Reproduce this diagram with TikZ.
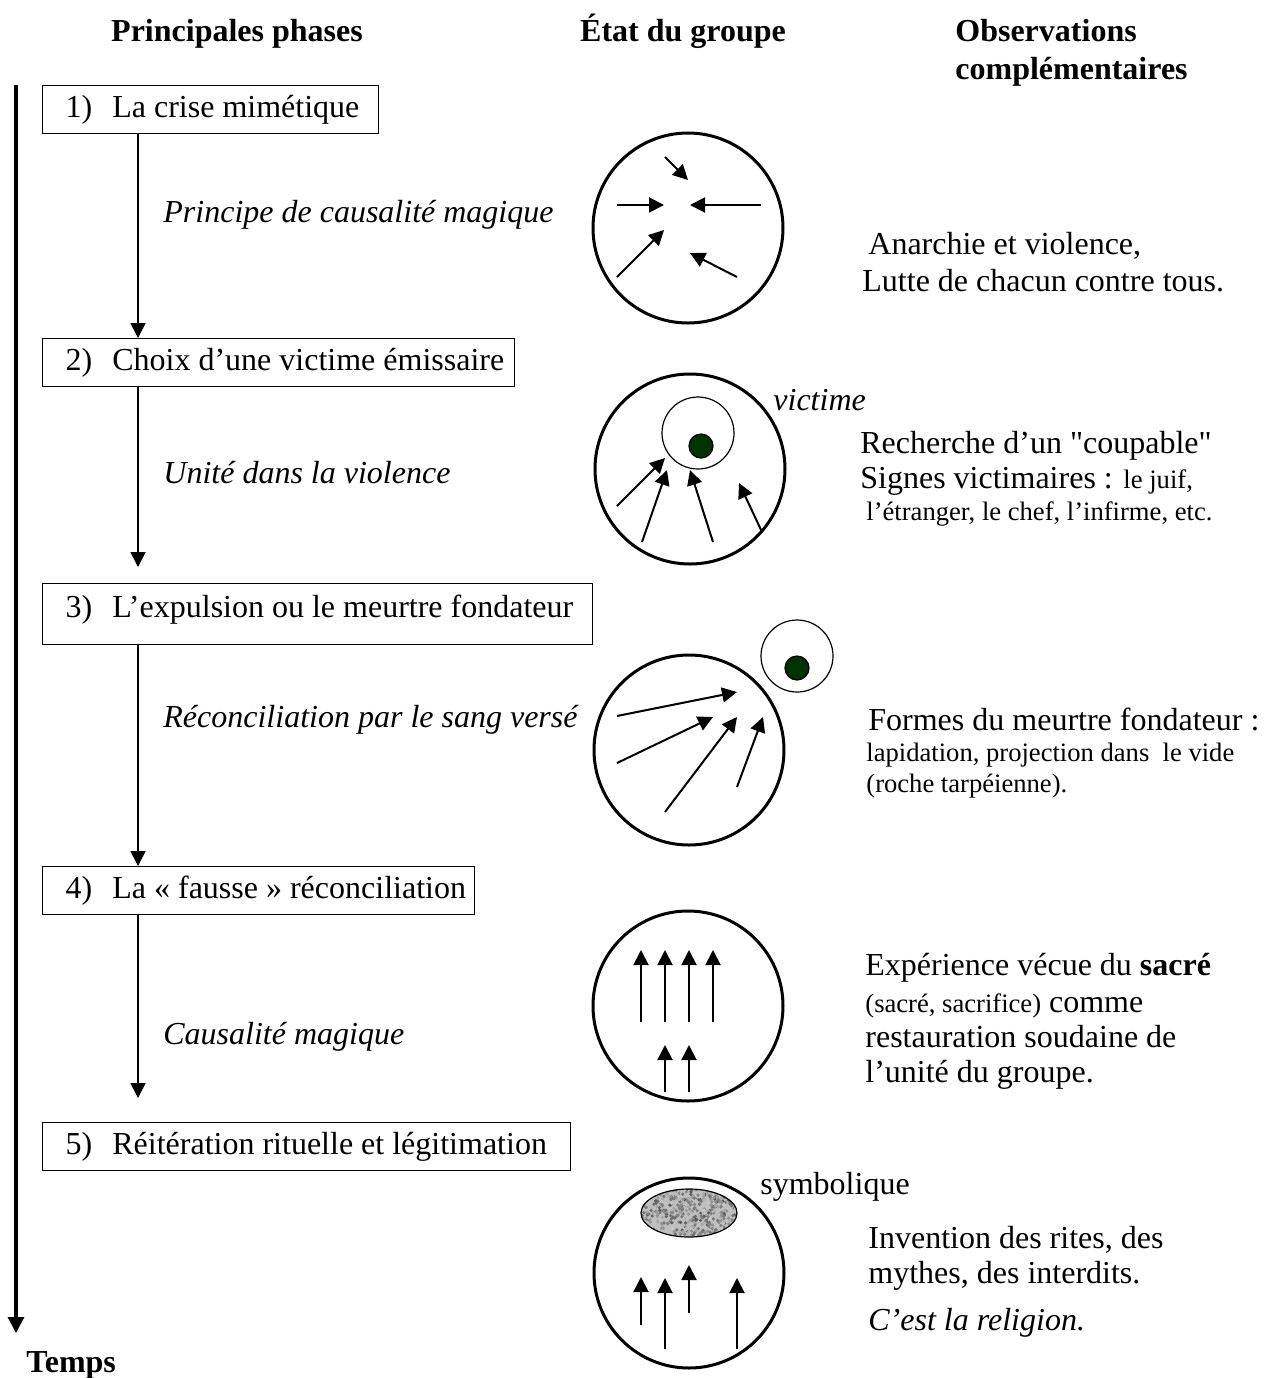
\documentclass[tikz,border=0pt]{standalone}
\usepackage{fontspec}
\setmainfont{Liberation Serif}[Ligatures=TeXOff]
\usetikzlibrary{arrows.meta}

\definecolor{vert}{RGB}{0,51,0}
\newcommand{\petit}{\fontsize{13.3}{16}\selectfont}
\newcommand{\etape}[3]{\makebox[#1][l]{\hspace{11.5pt}#2)\hspace{10pt}#3}}

\begin{document}
\begin{tikzpicture}[x=0.5pt,y=-0.5pt,
    every node/.style={font=\fontsize{16}{18.5}\selectfont, inner sep=0pt},
    titre/.style={font=\fontsize{16}{19}\selectfont\bfseries},
    phase/.style={draw, line width=0.7pt, anchor=north west, minimum height=24pt},
    lien/.style={line width=0.8pt, -{Triangle[length=7.5pt,width=7.5pt]}},
    etiq/.style={anchor=west, font=\fontsize{16}{18.5}\selectfont\itshape},
    groupe/.style={circle, draw, line width=1.5pt, minimum size=95pt},
    fleche/.style={line width=1pt, -{Triangle[length=7.5pt,width=7.5pt]}},
    victime/.style={circle, draw, line width=0.6pt, minimum size=36pt},
    point/.style={circle, draw, line width=0.6pt, fill=vert, minimum size=12pt},
    obs/.style={anchor=north west, align=left}]

    \useasboundingbox (0,0) rectangle (1271,1378);

    % titres des colonnes
    \node[titre, anchor=base] (h1) at (237,41) {Principales phases};
    \node[titre, anchor=base] (h2) at (683,41) {État du groupe};
    \node[titre, obs] (h3) at (955,19) {Observations\\complémentaires};

    % axe du temps
    \coordinate (t0) at (16,85);
    \coordinate (t1) at (16,1333);
    \draw[line width=1.6pt, -{Triangle[length=8pt,width=8pt]}] (t0) -- (t1);
    \node[titre, anchor=base west] (temps) at (26,1372) {Temps};

    % phases
    \node[phase] (p1) at (42,85) {\etape{168pt}{1}{La crise mimétique}};
    \node[phase] (p2) at (42,338) {\etape{236pt}{2}{Choix d’une victime émissaire}};
    \node[phase, text height=17pt, text depth=13.5pt] (p3) at (42,583) {\etape{275pt}{3}{L’expulsion ou le meurtre fondateur}};
    \node[phase] (p4) at (42,866) {\etape{216pt}{4}{La « fausse » réconciliation}};
    \node[phase] (p5) at (42,1122) {\etape{264pt}{5}{Réitération rituelle et légitimation}};

    \draw[lien] ([xshift=48pt]p1.south west) -- ([xshift=48pt]p2.north west);
    \draw[lien] ([xshift=48pt]p2.south west) -- ([xshift=48pt,yshift=8pt]p3.north west);
    \draw[lien] ([xshift=48pt]p3.south west) -- ([xshift=48pt]p4.north west);
    \draw[lien] ([xshift=48pt]p4.south west) -- ([xshift=48pt,yshift=12pt]p5.north west);

    \node[etiq] (l1) at (163,215) {Principe de causalité magique};
    \node[etiq] (l2) at (163,473) {Unité dans la violence};
    \node[etiq] (l3) at (163,720) {Réconciliation par le sang versé};
    \node[etiq] (l4) at (163,1037) {Causalité magique};

    % etat du groupe
    \node[groupe] (g1) at (688,228) {};
    \node[groupe] (g2) at (690,469) {};
    \node[groupe] (g3) at (689,750) {};
    \node[groupe] (g4) at (688,1006) {};
    \node[groupe] (g5) at (689,1273) {};

    % 1) crise
    \draw[fleche] (665,157) -- (688,180);
    \draw[fleche] (617,205) -- (664,205);
    \draw[fleche] (761,205) -- (690,205);
    \draw[fleche] (617,277) -- (664,230);
    \draw[fleche] (737,277) -- (690,253);

    % 2) victime
    \node[victime] (v2) at (698,433) {};
    \node[point] (d2) at (701,446) {};
    \node[etiq] (lv) at (773,400) {victime};
    \draw[fleche] (617,506) -- (665,458);
    \draw[fleche] (642,542) -- (667,470);
    \draw[fleche] (713,542) -- (690,470);
    \draw[fleche] (762,532) -- (739,483);

    % 3) expulsion
    \node[victime] (v3) at (797,656) {};
    \node[point] (d3) at (797,668) {};
    \draw[fleche] (617,716) -- (737,692);
    \draw[fleche] (617,763) -- (713,717);
    \draw[fleche] (665,812) -- (737,717);
    \draw[fleche] (737,787) -- (763,717);

    % 4) reconciliation
    \foreach \x in {641,665,689,713}
        \draw[fleche] (\x,1022) -- (\x,950);
    \foreach \x in {665,689}
        \draw[fleche] (\x,1092) -- (\x,1045);

    % 5) symbolique
    \begin{scope}
        \clip (689,1213) ellipse [x radius=48, y radius=24];
        \fill[gray!50] (641,1189) rectangle (737,1237);
        \pgfmathsetseed{42}
        \foreach \i in {1,...,500}{
            \pgfmathsetmacro{\px}{689+48*rand}
            \pgfmathsetmacro{\py}{1213+24*rand}
            \pgfmathsetmacro{\ton}{int(20+45*rnd)}
            \fill[black!\ton] (\px,\py) circle (1.8);
        }
    \end{scope}
    \draw[line width=0.6pt] (689,1213) ellipse [x radius=48, y radius=24];
    \node[anchor=west] (ls) at (760,1187) {symbolique};
    \draw[fleche] (641,1325) -- (641,1277);
    \draw[fleche] (665,1349) -- (665,1278);
    \draw[fleche] (689,1313) -- (689,1265);
    \draw[fleche] (737,1349) -- (737,1278);

    % observations
    \node[obs] (o1) at (862,232) {\hspace*{3pt}Anarchie et violence,\\Lutte de chacun contre tous.};
    \node[obs] (o2) at (860,431) {Recherche d’un "coupable"\\[-1pt]Signes victimaires : {\petit le juif,}\\[-2.5pt]\hspace*{3pt}{\petit l’étranger, le chef, l’infirme, etc.}};
    \node[obs] (o3) at (866,708) {\hspace*{1pt}Formes du meurtre fondateur :\\[-3pt]{\petit lapidation, projection dans\ \ le vide}\\[-3pt]{\petit (roche tarpéienne).}};
    \node[obs] (o4) at (865,953) {Expérience vécue du \textbf{sacré}\\{\petit (sacré, sacrifice)} comme\\[-1pt]restauration soudaine de\\[-1pt]l’unité du groupe.};
    \node[obs] (o5) at (868,1226) {Invention des rites, des\\[-1pt]mythes, des interdits.\\[5pt]\textit{C’est la religion.}};
\end{tikzpicture}
\end{document}
